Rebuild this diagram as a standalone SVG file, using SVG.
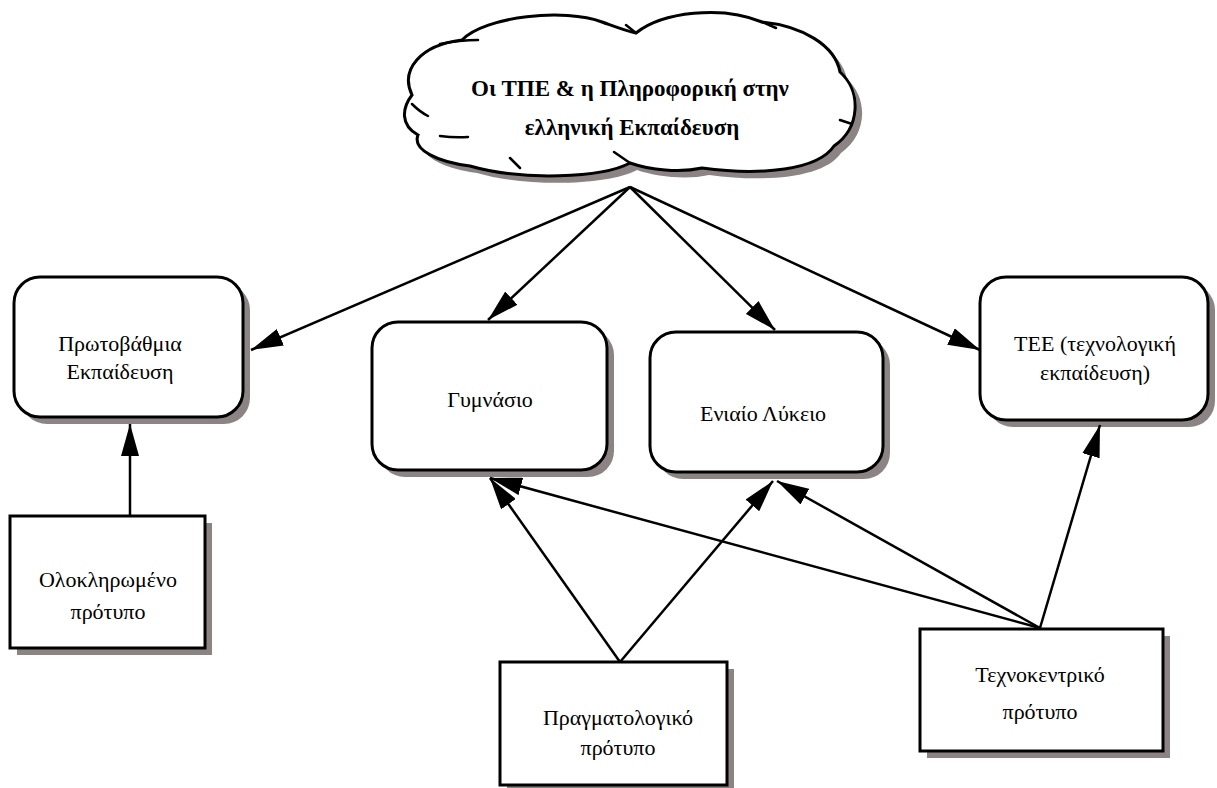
<svg xmlns="http://www.w3.org/2000/svg" width="1217" height="788" viewBox="0 0 1217 788">
<style>
.box{fill:#fff;stroke:#000;stroke-width:3}
.sh{fill:#8c8484}
.t{font-family:"Liberation Serif","DejaVu Serif",serif;font-size:22px;text-anchor:middle;fill:#000}
.tb{font-family:"Liberation Serif","DejaVu Serif",serif;font-size:23px;font-weight:bold;text-anchor:middle;fill:#000}
.c{stroke:#000;stroke-width:2.5;fill:none;marker-end:url(#ah)}
.tick{stroke:#000;stroke-width:2.5;fill:none;stroke-linecap:round}
</style>
<defs>
<marker id="ah" viewBox="0 0 32 18" refX="32" refY="9" markerWidth="32" markerHeight="18" orient="auto" markerUnits="userSpaceOnUse">
<path d="M0,0 L32,9 L0,18 Z" fill="#000"/>
</marker>
<path id="cloudp" d="M412,95 C400,70 420,45 462,40 C485,16 565,8 602,22 C616,27 626,31 636,33 C662,12 722,5 762,22 C802,26 835,45 840,72 C862,92 860,128 834,146 C818,170 762,176 702,168 C680,173 650,170 630,163 C602,178 522,181 470,166 C438,162 412,150 418,135 C400,125 402,108 412,95 Z"/>
</defs>
<rect width="1217" height="788" fill="#fff"/>

<g id="cloud">
<use href="#cloudp" transform="translate(7,7)" fill="#8c8484"/>
<use href="#cloudp" fill="#fff" stroke="#000" stroke-width="3"/>
<path class="tick" d="M440,44 Q460,40 478,40 M412,104 Q420,112 428,116 M440,136 Q455,138 468,137 M510,158 L520,168 M614,152 L630,163 M636,33 L626,25 M762,22 L776,28 M840,120 L852,124"/>
<text class="tb" x="630" y="96">Οι ΤΠΕ &amp; η Πληροφορική στην</text>
<text class="tb" x="632" y="135">ελληνική  Εκπαίδευση</text>
</g>

<g id="n-protovathmia">
<rect class="sh" x="21" y="284" width="229" height="140" rx="26"/>
<rect class="box" x="14" y="277" width="229" height="140" rx="26"/>
<text class="t" x="120" y="351">Πρωτοβάθμια</text>
<text class="t" x="120" y="379">Εκπαίδευση</text>
</g>

<g id="n-gymnasio">
<rect class="sh" x="379" y="329" width="235" height="148" rx="26"/>
<rect class="box" x="372" y="322" width="235" height="148" rx="26"/>
<text class="t" x="490" y="407">Γυμνάσιο</text>
</g>

<g id="n-lykeio">
<rect class="sh" x="657" y="339" width="233" height="140" rx="26"/>
<rect class="box" x="650" y="332" width="233" height="140" rx="26"/>
<text class="t" x="763" y="421">Ενιαίο Λύκειο</text>
</g>

<g id="n-tee">
<rect class="sh" x="987" y="284" width="228" height="143" rx="26"/>
<rect class="box" x="980" y="277" width="228" height="143" rx="26"/>
<text class="t" x="1095" y="351">ΤΕΕ (τεχνολογική</text>
<text class="t" x="1095" y="380">εκπαίδευση)</text>
</g>

<g id="n-oloklirwmeno">
<rect class="sh" x="17" y="523" width="195" height="132"/>
<rect class="box" x="10" y="516" width="195" height="132"/>
<text class="t" x="108" y="587">Ολοκληρωμένο</text>
<text class="t" x="108" y="619">πρότυπο</text>
</g>

<g id="n-pragmatologiko">
<rect class="sh" x="507" y="669" width="227" height="123"/>
<rect class="box" x="500" y="662" width="227" height="123"/>
<text class="t" x="618" y="725">Πραγματολογικό</text>
<text class="t" x="618" y="755">πρότυπο</text>
</g>

<g id="n-technokentriko">
<rect class="sh" x="927" y="636" width="243" height="122"/>
<rect class="box" x="920" y="629" width="243" height="122"/>
<text class="t" x="1040" y="682">Τεχνοκεντρικό</text>
<text class="t" x="1040" y="719">πρότυπο</text>
</g>

<g id="connectors">
<line class="c" x1="630" y1="187" x2="251" y2="350"/>
<line class="c" x1="630" y1="187" x2="488" y2="320"/>
<line class="c" x1="630" y1="187" x2="775" y2="330"/>
<line class="c" x1="630" y1="187" x2="980" y2="350"/>
<line class="c" x1="130" y1="516" x2="130" y2="424"/>
<line class="c" x1="620" y1="662" x2="490" y2="478"/>
<line class="c" x1="620" y1="662" x2="773" y2="481"/>
<line class="c" x1="1040" y1="628" x2="490" y2="478"/>
<line class="c" x1="1040" y1="628" x2="777" y2="481"/>
<line class="c" x1="1040" y1="628" x2="1100" y2="425"/>
</g>
</svg>
